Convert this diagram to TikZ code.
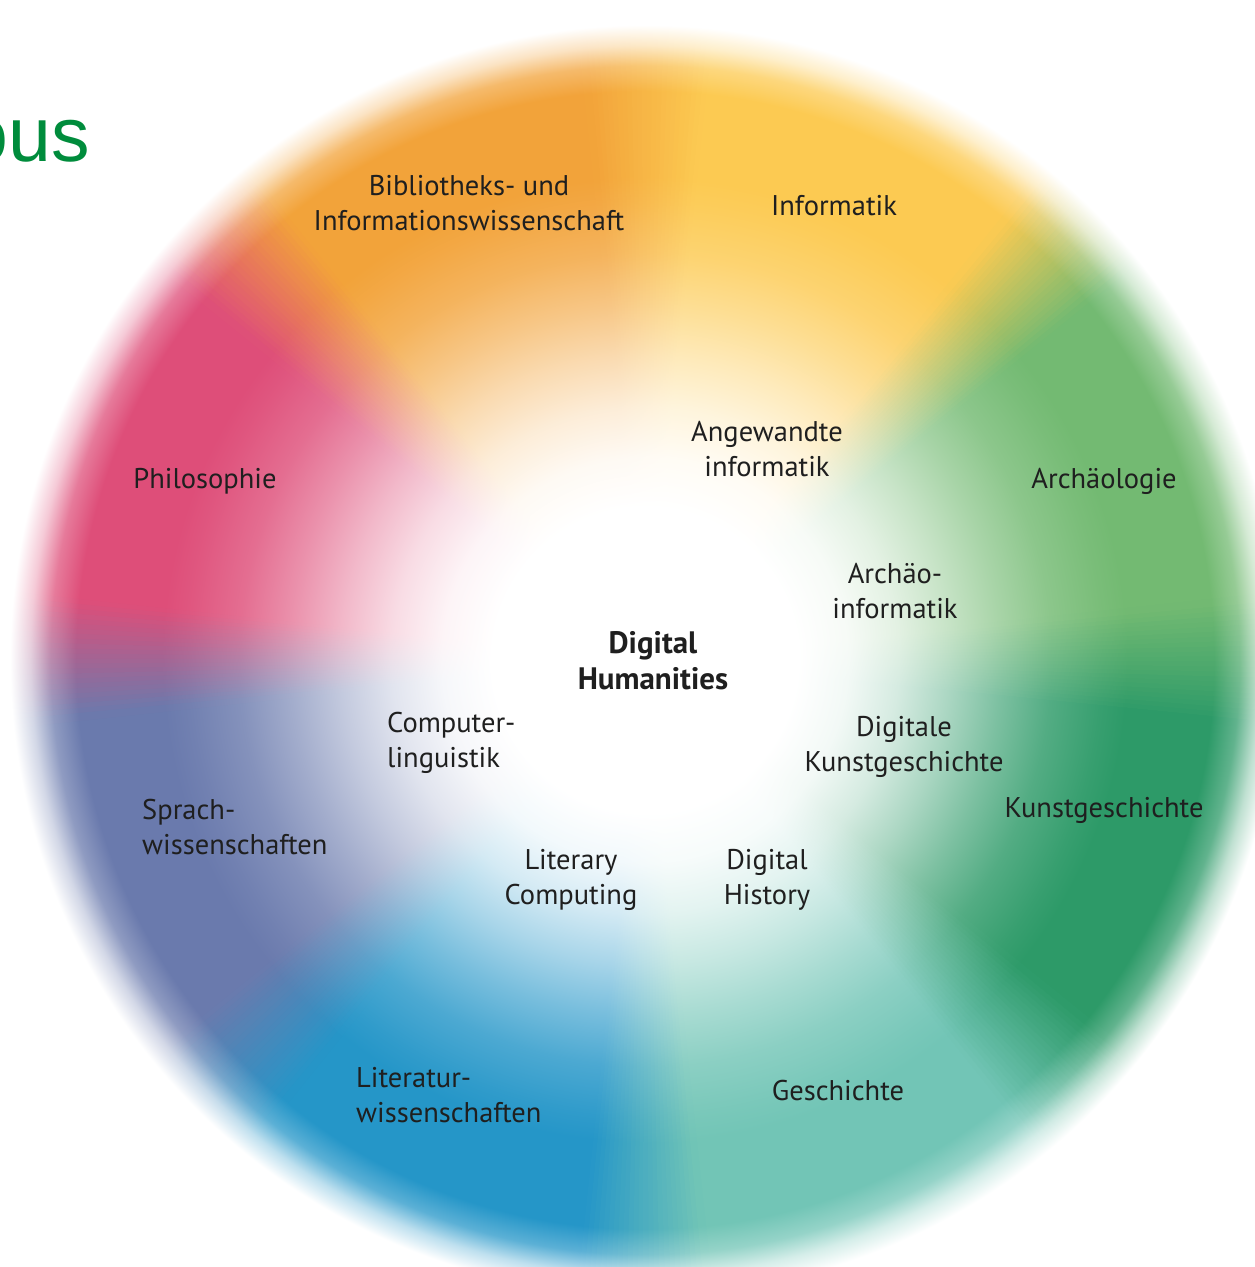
\documentclass[tikz,border=0pt]{standalone}
\usepackage{fontspec}
\setmainfont{PT Sans}
\newfontfamily\arialf{Liberation Sans}
\begin{document}
\definecolor{sc0}{RGB}{115,186,114}
\definecolor{sc1}{RGB}{252,202,82}
\definecolor{sc2}{RGB}{242,163,58}
\definecolor{sc3}{RGB}{222,78,121}
\definecolor{sc4}{RGB}{106,122,173}
\definecolor{sc5}{RGB}{37,150,200}
\definecolor{sc6}{RGB}{114,197,182}
\definecolor{sc7}{RGB}{45,154,104}
\definecolor{titlegreen}{RGB}{0,140,60}
\colorlet{wc}{white}
\pgfdeclareradialshading[wc]{wheel}{\pgfpointorigin}{color(0bp)=(white); color(6bp)=(white); color(8bp)=(wc!6!white); color(10bp)=(wc!20!white); color(12bp)=(wc!40!white); color(14bp)=(wc!62!white); color(16bp)=(wc!82!white); color(18bp)=(wc!95!white); color(19bp)=(wc); color(22.4bp)=(wc); color(23.4bp)=(wc!75!white); color(24.2bp)=(wc!30!white); color(25bp)=(white); color(50bp)=(white)}
\begin{tikzpicture}[x=1pt,y=1pt,
  lab/.style={font=\fontsize{28.5}{35}\selectfont, text=black!88, align=center, inner sep=0pt},
  labl/.style={lab, align=left, anchor=west}]
\useasboundingbox (0,0) rectangle (1255,1267);
\fill[white] (0,0) rectangle (1255,1267);
\coordinate (C) at (645,607);
\foreach \k in {0,...,7}{
  \pgfmathtruncatemacro\prev{mod(\k+7,8)}
  \colorlet{wc}{sc\k}
  \begin{scope}
    \clip (C) -- ++(45*\k+5.7:700) arc[start angle=45*\k+5.7, end angle=45*\k+39.3, radius=700] -- cycle;
    \shade[shading=wheel] (C) circle (635);
  \end{scope}
  \foreach \i in {0,...,23}{
    \pgfmathsetmacro\j{-6+\i/2}
    \pgfmathtruncatemacro\w{round(50+(\j+0.25)*50/6)}
    \colorlet{wc}{sc\k!\w!sc\prev}
    \pgfmathsetmacro\a{45*\k+\j}
    \begin{scope}
      \clip (C) -- ++(\a-0.15:700) arc[start angle=\a-0.15, end angle=\a+0.65, radius=700] -- cycle;
      \shade[shading=wheel] (C) circle (635);
    \end{scope}
  }
}
\node[font=\arialf\fontsize{77}{90}\selectfont, text=titlegreen, anchor=base east, inner sep=0pt] (title) at (90,1105) {ous};
\node[lab] (bib) at (469,1064) {Bibliotheks- und\\Informationswissenschaft};
\node[lab] (inf) at (834,1061) {Informatik};
\node[lab] (phil) at (205,786) {Philosophie};
\node[lab] (angew) at (767,818) {Angewandte\\informatik};
\node[lab] (arch) at (1104,786) {Archäologie};
\node[lab] (archinf) at (895,676) {Archäo-\\informatik};
\node[lab, font=\bfseries\fontsize{31}{36}\selectfont] (dh) at (653,606) {Digital\\Humanities};
\node[labl] (comp) at (387,524) {Computer-\\linguistik};
\node[lab] (digkg) at (904,520) {Digitale\\Kunstgeschichte};
\node[lab] (kg) at (1104,457) {Kunstgeschichte};
\node[labl] (sprach) at (142,440) {Sprach-\\wissenschaften};
\node[lab] (litcomp) at (571,387) {Literary\\Computing};
\node[lab] (dighist) at (767,387) {Digital\\History};
\node[labl] (litwiss) at (356,172) {Literatur-\\wissenschaften};
\node[lab] (gesch) at (838,176) {Geschichte};
\end{tikzpicture}
\end{document}
